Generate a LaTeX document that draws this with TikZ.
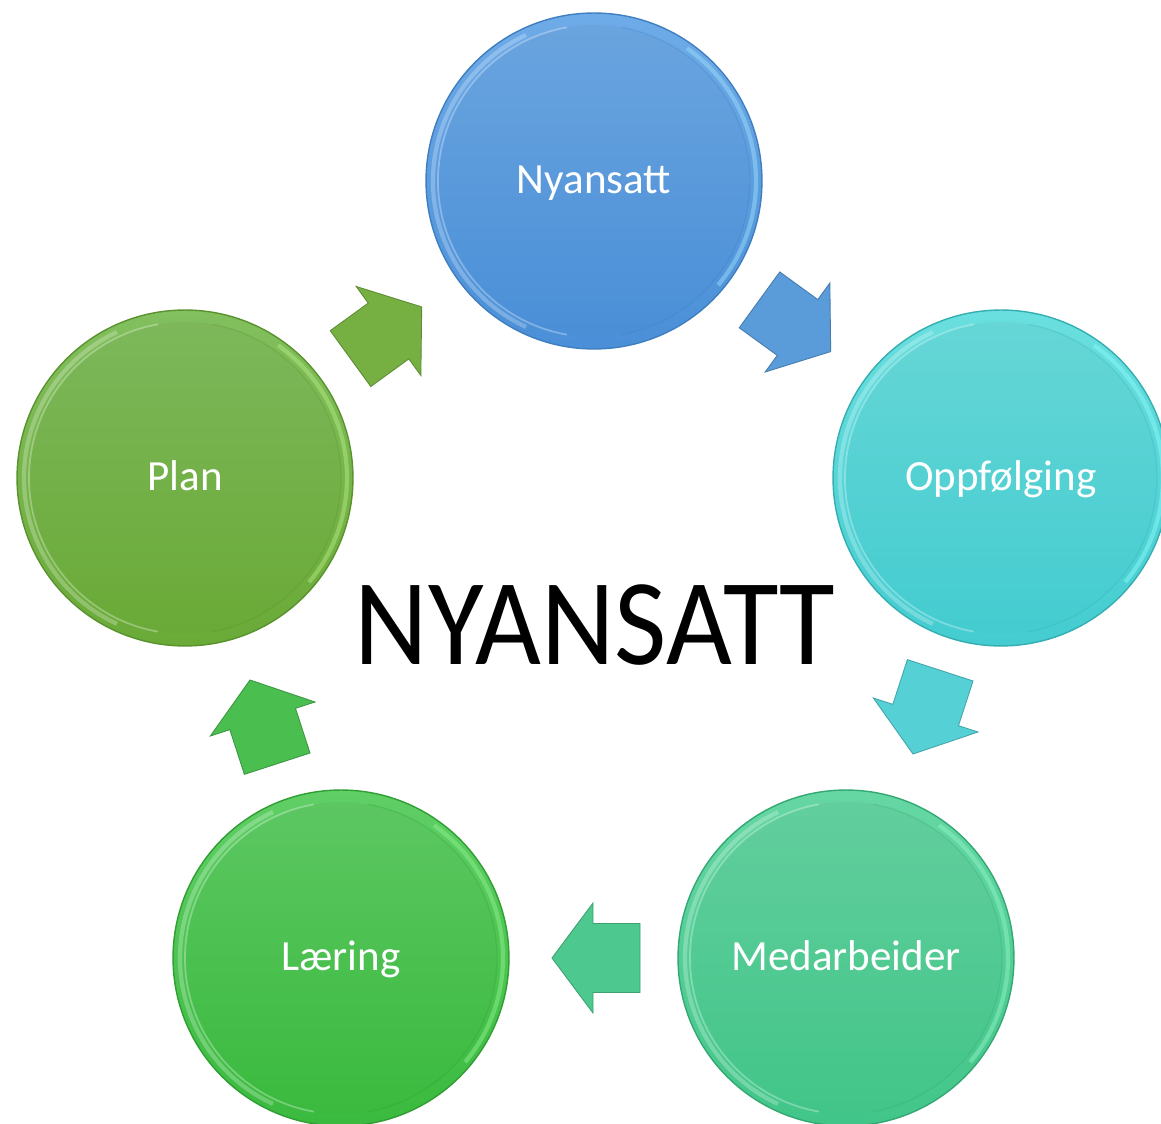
\documentclass[tikz,border=0pt]{standalone}
\usepackage{fontspec}
\setmainfont{Carlito}
\usepackage{graphicx}
\definecolor{nyTop}{HTML}{6EABE8}\definecolor{nyBot}{HTML}{4A8FD7}\definecolor{nyEdge}{HTML}{3F7FC0}\definecolor{nyRim}{HTML}{9ADCF8}
\definecolor{opTop}{HTML}{6ADFDF}\definecolor{opBot}{HTML}{44CCD0}\definecolor{opEdge}{HTML}{35AEB2}\definecolor{opRim}{HTML}{8AF8F8}
\definecolor{meTop}{HTML}{66D7A4}\definecolor{meBot}{HTML}{42C588}\definecolor{meEdge}{HTML}{34A874}\definecolor{meRim}{HTML}{8EF2C6}
\definecolor{laTop}{HTML}{60CF66}\definecolor{laBot}{HTML}{3ABA3E}\definecolor{laEdge}{HTML}{2F9E33}\definecolor{laRim}{HTML}{8CF08C}
\definecolor{plTop}{HTML}{82BF5E}\definecolor{plBot}{HTML}{6AAA37}\definecolor{plEdge}{HTML}{5A922E}\definecolor{plRim}{HTML}{B2E880}
\definecolor{aOne}{HTML}{76B043}\definecolor{aTwo}{HTML}{5A9BD9}\definecolor{aThree}{HTML}{55D0D5}
\definecolor{aFour}{HTML}{4DC98F}\definecolor{aFive}{HTML}{4BBE50}
\tikzset{
  disc/.style={circle, minimum size=6.72cm, inner sep=0pt, line width=0.8pt},
  innerdisc/.style={circle, minimum size=6.24cm, inner sep=0pt},
  lbl/.style={text=white, font=\fontsize{24.5}{28}\selectfont, inner sep=0pt},
  title/.style={text=black, font=\fontsize{70}{80}\selectfont, inner sep=0pt},
  blockarrow/.style={line width=0.5pt, line join=miter},
}
\newcommand\bubble[8]{% name, cx, cy, top, bottom, edge, rim, label
  \node[disc, top color=#4, bottom color=#5, draw=#6] (#1) at (#2,#3) {};
  \draw[#7, opacity=0.5, line width=2.4pt] (#2,#3) ++(-55:162) arc[start angle=-55, end angle=40, radius=162];
  \draw[white, opacity=0.25, line width=2.4pt] (#2,#3) ++(115:161) arc[start angle=115, end angle=245, radius=161];
  \node[innerdisc, top color=#4!96!black, bottom color=#5] (#1-in) at (#2,#3) {};
  \draw[white, opacity=0.3, line width=1pt] (#2,#3) ++(100:156) arc[start angle=100, end angle=260, radius=156];
  \draw[#6, opacity=0.25, line width=0.8pt] (#2,#3) ++(-80:156) arc[start angle=-80, end angle=80, radius=156];
  \node[lbl, anchor=base] (#1-t) at (#2,#3+13) {#8};
}
\newcommand\flowarrow[5]{% name, tipx, tipy, angle, color
  \coordinate (#1) at (#2,#3);
  \fill[blockarrow, #5, draw=#5!80!black, shift={(#1)}, rotate=#4]
    (0,0) -- (-41,55) -- (-41,34.5) -- (-88,34.5) -- (-88,-34.5) -- (-41,-34.5) -- (-41,-55) -- cycle;
}
\begin{document}
\begin{tikzpicture}[x=0.02cm, y=-0.02cm]
  \useasboundingbox (0,0) rectangle (1161,1124);
  \fill[white] (0,0) rectangle (1161,1124);
  \clip (0,0) rectangle (1161,1124);

  \bubble{ny}{594}{181}{nyTop}{nyBot}{nyEdge}{nyRim}{Nyansatt}
  \bubble{op}{1001}{478}{opTop}{opBot}{opEdge}{opRim}{Oppfølging}
  \bubble{me}{846}{958}{meTop}{meBot}{meEdge}{meRim}{Medarbeider}
  \bubble{la}{341}{958}{laTop}{laBot}{laEdge}{laRim}{Læring}
  \bubble{pl}{185}{478}{plTop}{plBot}{plEdge}{plRim}{Plan}

  \flowarrow{a1}{421.7}{306.9}{36}{aOne}
  \flowarrow{a2}{830.7}{351.6}{-36}{aTwo}
  \flowarrow{a3}{913}{754}{-108}{aThree}
  \flowarrow{a4}{552}{958}{180}{aFour}
  \flowarrow{a5}{250}{680}{108}{aFive}

  \node[title, anchor=base] (center) at (595,665) {\scalebox{0.925}[1]{NYANSATT}};
\end{tikzpicture}
\end{document}
